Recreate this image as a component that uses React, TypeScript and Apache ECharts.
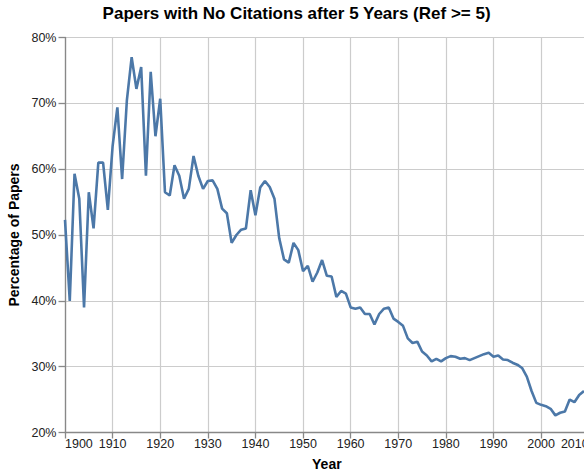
import React, { useEffect, useRef } from "react";
import * as echarts from "echarts";

const titleText = "Papers with No Citations after 5 Years (Ref >= 5)";
const xAxisName = "Year";
const yAxisName = "Percentage of Papers";
const startYear = 1900;
const xTicks = [1900, 1910, 1920, 1930, 1940, 1950, 1960, 1970, 1980, 1990, 2000, 2010];
const yTicks = [20, 30, 40, 50, 60, 70, 80];

// Percentage of papers with no citations after 5 years, one value per year from 1900
const pct1900s = [52.3, 40, 59.3, 55.5, 39, 56.5, 51, 61, 61, 53.8];
const pct1910s = [63.5, 69.4, 58.5, 70.5, 77, 72.2, 75.5, 59, 74.8, 65];
const pct1920s = [70.7, 56.5, 56, 60.6, 59, 55.5, 57, 62, 59, 57];
const pct1930s = [58.2, 58.3, 57, 54, 53.3, 48.8, 50, 50.8, 51, 56.8];
const pct1940s = [53, 57.2, 58.2, 57.3, 55.5, 49.5, 46.3, 45.8, 48.8, 47.7];
const pct1950s = [44.5, 45.3, 42.9, 44.3, 46.2, 43.8, 43.7, 40.6, 41.5, 41.1];
const pct1960s = [39, 38.8, 39, 38, 38, 36.4, 38, 38.8, 39, 37.3];
const pct1970s = [36.8, 36.2, 34.3, 33.6, 33.8, 32.3, 31.7, 30.8, 31.2, 30.8];
const pct1980s = [31.3, 31.6, 31.5, 31.2, 31.3, 31, 31.3, 31.6, 31.9, 32.1];
const pct1990s = [31.5, 31.7, 31.1, 31, 30.6, 30.3, 29.8, 28.5, 26.3, 24.5];
const pct2000s = [24.2, 24, 23.6, 22.6, 23, 23.2, 25, 24.6, 25.7, 26.3];

const values = [
  ...pct1900s, ...pct1910s, ...pct1920s, ...pct1930s, ...pct1940s, ...pct1950s,
  ...pct1960s, ...pct1970s, ...pct1980s, ...pct1990s, ...pct2000s,
];

const FONT = "'Liberation Sans', Arial, Helvetica, sans-serif";

export default function App() {
  const ref = useRef<HTMLDivElement>(null);
  useEffect(() => {
    if (!ref.current) return;
    const chart = echarts.init(ref.current, null, { renderer: "svg" });
    const data = values.map((v, i) => [startYear + i, v]);
    chart.setOption({
      animation: false,
      textStyle: { fontFamily: FONT },
      title: {
        text: titleText,
        left: 296.6,
        top: 5,
        padding: 0,
        textAlign: "center",
        textStyle: { fontFamily: FONT, fontSize: 17, fontWeight: "bold", color: "#000" },
      },
      grid: {
        left: 65,
        top: 37.5,
        width: 523.7,
        height: 395,
        containLabel: false,
        outerBoundsMode: "none",
      },
      xAxis: {
        type: "value",
        min: xTicks[0],
        max: xTicks[xTicks.length - 1],
        interval: 10,
        name: xAxisName,
        nameLocation: "middle",
        nameGap: 24,
        nameTextStyle: { fontFamily: FONT, fontSize: 14, fontWeight: "bold", color: "#000" },
        axisLine: { show: true, lineStyle: { color: "#888", width: 1.3 } },
        axisTick: { show: true, length: 6, lineStyle: { color: "#888", width: 1.3 } },
        axisLabel: {
          fontFamily: FONT,
          fontSize: 12.5,
          color: "#222",
          margin: 5,
          alignMinLabel: "left",
          alignMaxLabel: "right",
          formatter: (v: number) => String(v),
        },
        splitLine: { show: true, lineStyle: { color: "#cccccc", width: 1.2 } },
      },
      yAxis: {
        type: "value",
        min: yTicks[0],
        max: yTicks[yTicks.length - 1],
        interval: 10,
        name: yAxisName,
        nameLocation: "middle",
        nameGap: 40,
        nameTextStyle: { fontFamily: FONT, fontSize: 14, fontWeight: "bold", color: "#000" },
        axisLine: { show: true, lineStyle: { color: "#888", width: 1.3 } },
        axisTick: { show: true, length: 6.5, lineStyle: { color: "#888", width: 1.3 } },
        axisLabel: {
          fontFamily: FONT,
          fontSize: 12.5,
          color: "#222",
          margin: 8.5,
          formatter: "{value}%",
        },
        splitLine: { show: true, lineStyle: { color: "#cccccc", width: 1.2 } },
      },
      series: [
        {
          type: "line",
          data,
          showSymbol: false,
          symbol: "none",
          lineStyle: { color: "#4c78a8", width: 2.6 },
          itemStyle: { color: "#4c78a8" },
        },
      ],
    });
    return () => chart.dispose();
  }, []);
  return (
    <div
      ref={ref}
      style={{ position: "fixed", left: 0, top: 0, width: 584, height: 471, background: "#fff" }}
    />
  );
}
